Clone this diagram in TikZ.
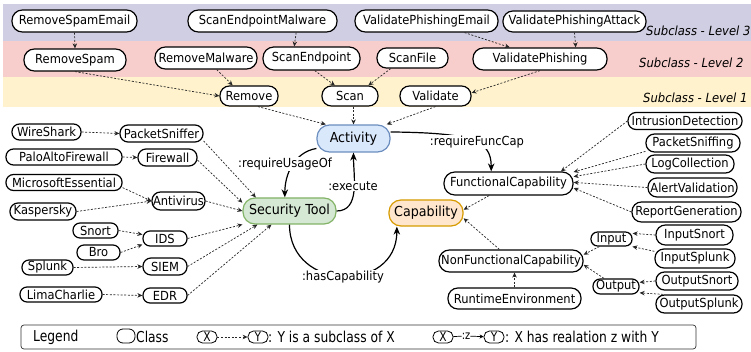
\documentclass[tikz,border=0pt]{standalone}
\usepackage{fontspec}
\setmainfont{DejaVu Sans}[FakeStretch=0.92]
\newfontfamily\legfont[FakeStretch=0.82]{DejaVu Sans}
\usetikzlibrary{arrows.meta,calc}
\definecolor{bandA}{HTML}{D0CEE2}
\definecolor{bandB}{HTML}{F8CECC}
\definecolor{bandC}{HTML}{FFF2CC}
\definecolor{actF}{HTML}{DAE8FC}\definecolor{actD}{HTML}{6C8EBF}
\definecolor{stF}{HTML}{D5E8D4}\definecolor{stD}{HTML}{82B366}
\definecolor{capF}{HTML}{FFE6CC}\definecolor{capD}{HTML}{D79B00}
\tikzset{
  cls/.style={draw=black, line width=1.2pt, fill=white, inner sep=0pt, font=\fontsize{12.5pt}{14pt}\selectfont},
  main/.style={line width=1.2pt, inner sep=0pt, font=\fontsize{13.8pt}{15pt}\selectfont},
  sub/.style={draw=black!85, line width=0.7pt, dash pattern=on 2pt off 1.6pt, -{Stealth[length=5pt,width=4.5pt]}},
  rel/.style={draw=black, line width=1.2pt, -{Stealth[length=8pt,width=6.5pt,inset=2.5pt]}},
  lbl/.style={fill=white, inner sep=1pt, font=\fontsize{12.5pt}{14pt}\selectfont},
  lvl/.style={anchor=west, inner sep=0pt, font=\fontsize{12.6pt}{14pt}\selectfont\itshape},
  legt/.style={inner sep=0pt, font=\fontsize{15pt}{16pt}\legfont},
  lpill/.style={draw=black, line width=0.8pt, rounded corners=5.5pt, minimum width=20pt, minimum height=12pt, inner sep=0pt, font=\fontsize{13pt}{14pt}\legfont}
}
\newcommand\cn[6]{\node[cls,minimum width=#4pt,minimum height=#5pt,rounded corners={0.47*#5pt}] (#1) at (#2,-#3) {#6};}
\begin{document}
\begin{tikzpicture}[x=1pt,y=1pt]
\useasboundingbox (0,0) rectangle (751,-352);
\fill[white] (0,0) rectangle (751,-352);
% bands
\fill[bandA] (3,-4) rectangle (751,-41);
\fill[bandB] (3,-41) rectangle (751,-77);
\fill[bandC] (3,-77) rectangle (751,-107);
\node[lvl] (lv3) at (646,-31) {Subclass - Level 3};
\node[lvl] (lv2) at (639,-63) {Subclass - Level 2};
\node[lvl] (lv1) at (643,-98) {Subclass - Level 1};
% level 3
\cn{RSE}{74.5}{21}{125}{22}{RemoveSpamEmail}
\cn{SEM}{262.5}{21}{149}{22}{ScanEndpointMalware}
\cn{VPE}{426.5}{21}{143}{22}{ValidatePhishingEmail}
\cn{VPA}{574.5}{21.5}{143}{21}{ValidatePhishingAttack}
% level 2
\cn{RS}{75}{60}{102}{22}{RemoveSpam}
\cn{RM}{206}{58}{102}{22}{RemoveMalware}
\cn{SE}{311.5}{58.5}{97}{23}{ScanEndpoint}
\cn{SF}{412.5}{58}{71}{20}{ScanFile}
\cn{VP}{540}{59}{134}{22}{ValidatePhishing}
% level 1
\cn{Remove}{249}{96}{58}{20}{Remove}
\cn{Scan}{350}{96}{56}{20}{Scan}
\cn{Validate}{435.5}{96}{71}{20}{Validate}
% main
\node[main, draw=actD, fill=actF, minimum width=73pt, minimum height=27pt, rounded corners=12.5pt] (Act) at (353.5,-138.5) {Activity};
\node[main, draw=stD, fill=stF, minimum width=93pt, minimum height=26pt, rounded corners=12pt] (ST) at (289.5,-211) {Security Tool};
\node[main, draw=capD, fill=capF, minimum width=74pt, minimum height=26pt, rounded corners=12pt] (Cap) at (426,-213) {Capability};
% capabilities
\cn{FC}{508.5}{183.5}{129}{23}{FunctionalCapability}
\cn{NFC}{511}{261}{144}{22}{NonFunctionalCapability}
\cn{RE}{514.5}{298.5}{133}{21}{RuntimeEnvironment}
\cn{Input}{611.5}{239}{41}{14}{Input}
\cn{Output}{616}{286.5}{46}{15}{Output}
\cn{ID}{685}{121}{114}{17}{IntrusionDetection}
\cn{PSg}{693}{143}{94}{18}{PacketSniffing}
\cn{LCo}{690}{164}{88}{18}{LogCollection}
\cn{AlV}{692.5}{187.5}{89}{19}{AlertValidation}
\cn{RG}{686.5}{212}{109}{20}{ReportGeneration}
\cn{ISn}{694.5}{235}{77}{20}{InputSnort}
\cn{ISp}{695}{258.5}{80}{19}{InputSplunk}
\cn{OSn}{697}{281}{82}{18}{OutputSnort}
\cn{OSp}{699}{304}{86}{18}{OutputSplunk}
% tools
\cn{WS}{46.5}{132}{69}{16}{WireShark}
\cn{PSn}{161.5}{133.5}{83}{17}{PacketSniffer}
\cn{PAF}{64}{157}{116}{16}{PaloAltoFirewall}
\cn{FW}{167.5}{157.5}{59}{17}{Firewall}
\cn{ME}{64}{182.5}{116}{16}{MicrosoftEssential}
\cn{Anti}{178.5}{201}{53}{18}{Antivirus}
\cn{Kas}{43}{211.5}{66}{17}{Kaspersky}
\cn{Snort}{95.5}{230.5}{45}{15}{Snort}
\cn{IDS}{165}{238.5}{44}{15}{IDS}
\cn{Bro}{98.5}{252.5}{43}{15}{Bro}
\cn{Splunk}{47.5}{267.5}{51}{15}{Splunk}
\cn{SIEM}{165}{266.5}{44}{17}{SIEM}
\cn{LC}{61}{294.5}{82}{15}{LimaCharlie}
\cn{EDR}{165}{295.5}{44}{15}{EDR}
% subclass edges top
\draw[sub] (RSE.south) -- (RS.north);
\draw[sub] (SEM.-19) -- (SE.145);
\draw[sub] (VPE.-17) -- (VP.159);
\draw[sub] (VPA.south) -- (VP.18);
\draw[sub] (RS.south) -- (Remove.west);
\draw[sub] (RM.-47) -- (Remove.147);
\draw[sub] (SE.-75) -- (Scan.145);
\draw[sub] (SF.206) -- (Scan.30);
\draw[sub] (VP.south) -- (Validate.5);
\draw[sub] (Remove.-50) -- (Act.153);
\draw[sub] (Act.north |- Scan.south) -- (Act.north);
\draw[sub] (Validate.south) -- (Act.23);
% subclass edges left
\draw[sub] (WS.east) -- (PSn.west);
\draw[sub] (PAF.east) -- (FW.west);
\draw[sub] (ME.-5) -- (Anti.west);
\draw[sub] (Kas.east) -- (Anti.west);
\draw[sub] (Snort.east) -- (IDS.170);
\draw[sub] (Bro.east) -- (IDS.195);
\draw[sub] (Splunk.east) -- (SIEM.west);
\draw[sub] (LC.east) -- (EDR.west);
\draw[sub] (PSn.-10) -- (ST.158);
\draw[sub] (FW.-5) -- (ST.170);
\draw[sub] (Anti.east) -- (ST.west);
\draw[sub] (IDS.east) -- (ST.196);
\draw[sub] (SIEM.east) -- (ST.203);
\draw[sub] (EDR.east) -- (ST.217);
% subclass edges right
\draw[sub] (ID.west) -- (FC.13);
\draw[sub] (PSg.190) -- (FC.10);
\draw[sub] (LCo.west) -- (FC.6);
\draw[sub] (AlV.west) -- (FC.1);
\draw[sub] (RG.west) -- (FC.-4);
\draw[sub] (FC.212) -- (Cap.5);
\draw[sub] (NFC.135) -- (Cap.-8);
\draw[sub] (RE.north) -- (RE.north |- NFC.south);
\draw[sub] (Input.212) -- (NFC.5);
\draw[sub] (Output.146) -- (NFC.-3);
\draw[sub] (ISn.west) -- (Input.15);
\draw[sub] (ISp.170) -- (Input.-20);
\draw[sub] (OSn.west) -- (Output.10);
\draw[sub] (OSp.165) -- (Output.-15);
% relations
\draw[rel] (Act.195) to[out=190,in=90] (ST.109);
\draw[rel] (ST.east) to[out=0,in=-90] (Act.south);
\draw[rel] (ST.south) to[out=-90,in=-90,looseness=1.6] (Cap.205);
\draw[rel] (Act.10) .. controls ($(Act.10)+(80,-1)$) and ($(FC.145)+(0,32)$) .. (FC.145);
\node[lbl] (lUse) at (285,-164) {:requireUsageOf};
\node[lbl] (lExe) at (353,-186) {:execute};
\node[lbl] (lHas) at (343,-277) {:hasCapability};
\node[lbl] (lReq) at (477,-142) {:requireFuncCap};
% legend
\node[draw=black!80, line width=0.7pt, rounded corners=3pt, minimum width=675pt, minimum height=24pt] (leg) at (358.5,-337) {};
\node[legt, anchor=west] (legT) at (33,-337) {Legend};
\node[draw=black, line width=0.8pt, rounded corners=6pt, minimum width=18pt, minimum height=14pt, inner sep=0pt] (lgC) at (126,-336) {};
\node[legt, anchor=west] (lgCt) at (136,-337) {Class};
\node[lpill] (lX1) at (207,-337) {X};
\node[lpill] (lY1) at (258,-337) {Y};
\draw[sub] (lX1) -- (lY1);
\node[legt, anchor=west] (lt1) at (268,-337) {: Y is a subclass of X};
\node[lpill] (lX2) at (443,-337) {X};
\node[inner sep=0pt, font=\fontsize{12pt}{13pt}\legfont] (lz) at (466,-336) {:z};
\node[lpill] (lY2) at (494,-337) {Y};
\draw[line width=0.7pt] (lX2) -- (lz);
\draw[line width=0.7pt, -{Stealth[length=4pt,width=4pt]}] (lz) -- (lY2);
\node[legt, anchor=west] (lt2) at (505,-337) {: X has realation z with Y};
\end{tikzpicture}
\end{document}
